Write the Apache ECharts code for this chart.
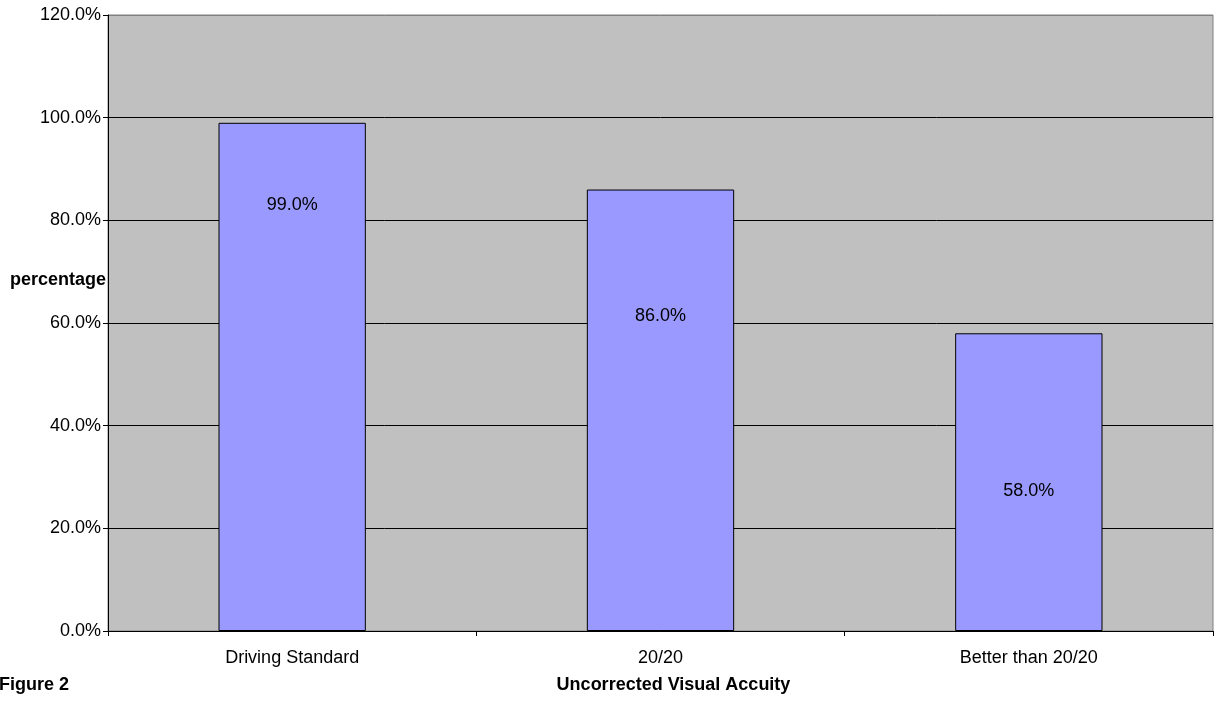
<!DOCTYPE html>
<html>
<head>
<meta charset="utf-8">
<script src="https://cdn.jsdelivr.net/npm/echarts@6/dist/echarts.min.js"></script>
<style>
  html, body { margin: 0; padding: 0; background: #fff; }
  #chart { width: 1215px; height: 704px; }
</style>
</head>
<body>
<div id="chart"></div>
<script>
// Share of drivers meeting each uncorrected visual acuity level
const categories = ['Driving Standard', '20/20', 'Better than 20/20'];
const percentages = [99.0, 86.0, 58.0];
const yTicks = [0, 20, 40, 60, 80, 100, 120];

// distance of each value label below its bar top (px)
const labelDrop = [73, 117, 149];

const font = '"Liberation Sans", Arial, sans-serif';
const chart = echarts.init(document.getElementById('chart'));

chart.setOption({
  animation: false,
  backgroundColor: '#ffffff',
  textStyle: { fontFamily: font },
  graphic: [
    { type: 'text', left: -1, top: 676, style: { text: 'Figure 2', font: 'bold 18px ' + font, fill: '#000' } },
    { type: 'text', left: 10, top: 271, style: { text: 'percentage', font: 'bold 18px ' + font, fill: '#000' } }
  ],
  grid: {
    left: 108, top: 15, right: 2, bottom: 73,
    show: true, backgroundColor: '#c0c0c0', borderColor: '#808080', borderWidth: 1
  },
  xAxis: {
    type: 'category',
    data: categories,
    name: 'Uncorrected Visual Accuity',
    nameLocation: 'middle',
    nameGap: 45,
    nameTextStyle: { fontFamily: font, fontWeight: 'bold', fontSize: 18, color: '#000', padding: [0, 0, 0, 26] },
    axisLine: { lineStyle: { color: '#000', width: 1 } },
    axisTick: { show: true, alignWithLabel: false, length: 5, lineStyle: { color: '#000' } },
    axisLabel: { fontFamily: font, fontSize: 18, color: '#000', margin: 18 },
    splitLine: { show: false }
  },
  yAxis: {
    type: 'value',
    min: yTicks[0],
    max: yTicks[yTicks.length - 1],
    interval: 20,
    axisLine: { show: true, lineStyle: { color: '#000', width: 1 } },
    axisTick: { show: true, length: 5, lineStyle: { color: '#000' } },
    axisLabel: {
      fontFamily: font, fontSize: 18, color: '#000', margin: 7,
      formatter: v => v.toFixed(1) + '%'
    },
    splitLine: { show: true, lineStyle: { color: ['#000', '#000', '#000', '#000', '#000', '#000', '#808080'], width: 1 } }
  },
  series: [{
    type: 'bar',
    barWidth: '40%',
    data: percentages.map((v, i) => ({
      value: v,
      label: { distance: labelDrop[i] }
    })),
    itemStyle: { color: '#9999ff', borderColor: '#000', borderWidth: 1 },
    label: {
      show: true,
      position: 'insideTop',
      fontFamily: font,
      fontSize: 18,
      color: '#000',
      formatter: p => p.value.toFixed(1) + '%'
    }
  }]
});
</script>
</body>
</html>
